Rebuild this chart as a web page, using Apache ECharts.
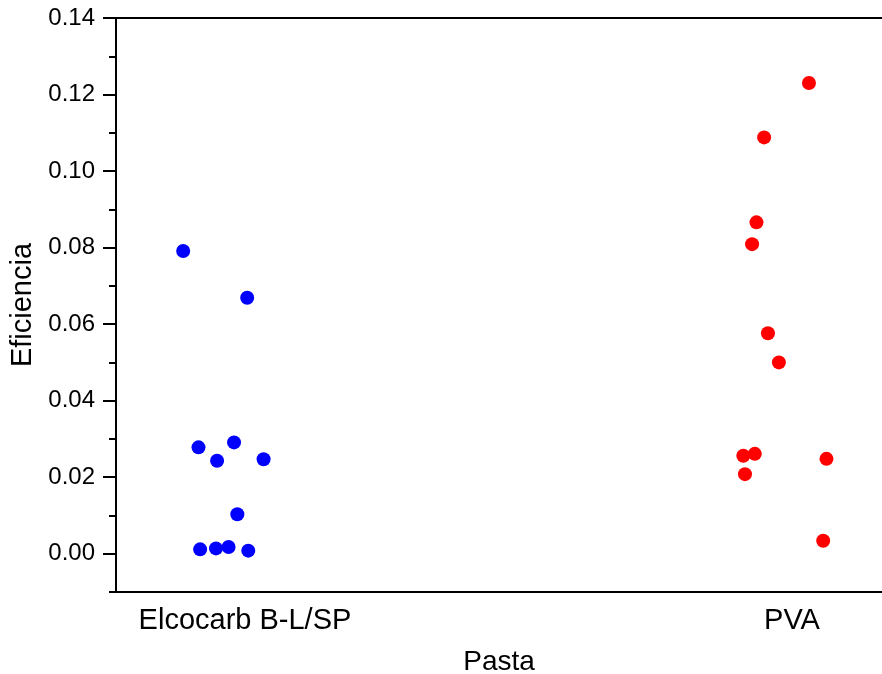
<!DOCTYPE html>
<html>
<head>
<meta charset="utf-8">
<script src="https://cdn.jsdelivr.net/npm/echarts@6/dist/echarts.min.js"></script>
<style>html,body{margin:0;padding:0;background:#fff}#c{width:882px;height:674px}</style>
</head>
<body>
<div id="c"></div>
<script>
// Categories (x positions 1 and 2, points jittered around them)
var categories = ['Elcocarb B-L/SP', 'PVA'];
var yTicks = [0, 0.02, 0.04, 0.06, 0.08, 0.10, 0.12, 0.14];

// Elcocarb B-L/SP: jittered x and Eficiencia
var elcocarbX = [0.887, 1.004, 0.915, 0.949, 0.980, 1.034, 0.986, 0.918, 0.947, 0.970, 1.006];
var elcocarbY = [0.0791, 0.0669, 0.0278, 0.0243, 0.0291, 0.0247, 0.0103, 0.00115, 0.0014, 0.00175, 0.0008];

// PVA: jittered x and Eficiencia
var pvaX = [2.031, 1.949, 1.935, 1.927, 1.956, 1.976, 1.911, 1.932, 1.914, 2.063, 2.057];
var pvaY = [0.1230, 0.1088, 0.0866, 0.0809, 0.0576, 0.0500, 0.0256, 0.0261, 0.0208, 0.0248, 0.0034];

function pairs(xs, ys) { return xs.map(function (x, i) { return [x, ys[i]]; }); }

var font = 'Liberation Sans, Arial, sans-serif';
var chart = echarts.init(document.getElementById('c'), null, { renderer: 'canvas' });
chart.setOption({
  animation: false,
  backgroundColor: '#ffffff',
  grid: { left: 116, right: 0, top: 18, bottom: 82, outerBoundsMode: 'none', containLabel: false },
  xAxis: [{
    type: 'value', position: 'bottom',
    min: 0.7642, max: 2.1645,
    name: 'Pasta', nameLocation: 'middle', nameGap: 56,
    nameTextStyle: { fontFamily: font, fontSize: 28, color: '#000' },
    axisLine: { show: true, onZero: false, lineStyle: { color: '#000', width: 2 } },
    axisTick: { show: false },
    splitLine: { show: false },
    axisLabel: {
      customValues: [1, 2],
      formatter: function (v) { return categories[Math.round(v) - 1] || ''; },
      fontFamily: font, fontSize: 29, color: '#000', margin: 14
    }
  }, {
    type: 'value', position: 'top',
    min: 0.7642, max: 2.1645,
    axisLine: { show: true, onZero: false, lineStyle: { color: '#000', width: 2 } },
    axisTick: { show: false }, axisLabel: { show: false }, splitLine: { show: false }
  }],
  yAxis: [{
    type: 'value', position: 'left',
    min: -0.01, max: 0.14, interval: 0.01,
    name: 'Eficiencia', nameLocation: 'middle', nameGap: 77,
    nameTextStyle: { fontFamily: font, fontSize: 29, color: '#000' },
    axisLine: { show: true, onZero: false, lineStyle: { color: '#000', width: 2 } },
    axisTick: { show: true, inside: false, length: 7, lineStyle: { color: '#000', width: 2 } },
    splitLine: { show: false },
    axisLabel: {
      fontFamily: font, fontSize: 24, color: '#000', margin: 21,
      formatter: function (v) {
        var k = Math.round(v * 100);
        return (k % 2 === 0 && k >= 0) ? (k / 100).toFixed(2) : '';
      }
    }
  }, {
    type: 'value', position: 'left',
    min: -0.01, max: 0.14,
    axisLine: { show: false },
    axisTick: { show: true, inside: false, length: 13, customValues: yTicks, lineStyle: { color: '#000', width: 2 } },
    axisLabel: { show: false, customValues: yTicks },
    splitLine: { show: false }
  }],
  series: [{
    type: 'scatter', name: categories[0], xAxisIndex: 0, yAxisIndex: 0,
    data: pairs(elcocarbX, elcocarbY),
    symbol: 'circle', symbolSize: 14,
    itemStyle: { color: '#0000ff', opacity: 1 }
  }, {
    type: 'scatter', name: categories[1], xAxisIndex: 0, yAxisIndex: 0,
    data: pairs(pvaX, pvaY),
    symbol: 'circle', symbolSize: 14,
    itemStyle: { color: '#ff0000', opacity: 1 }
  }]
});
</script>
</body>
</html>
